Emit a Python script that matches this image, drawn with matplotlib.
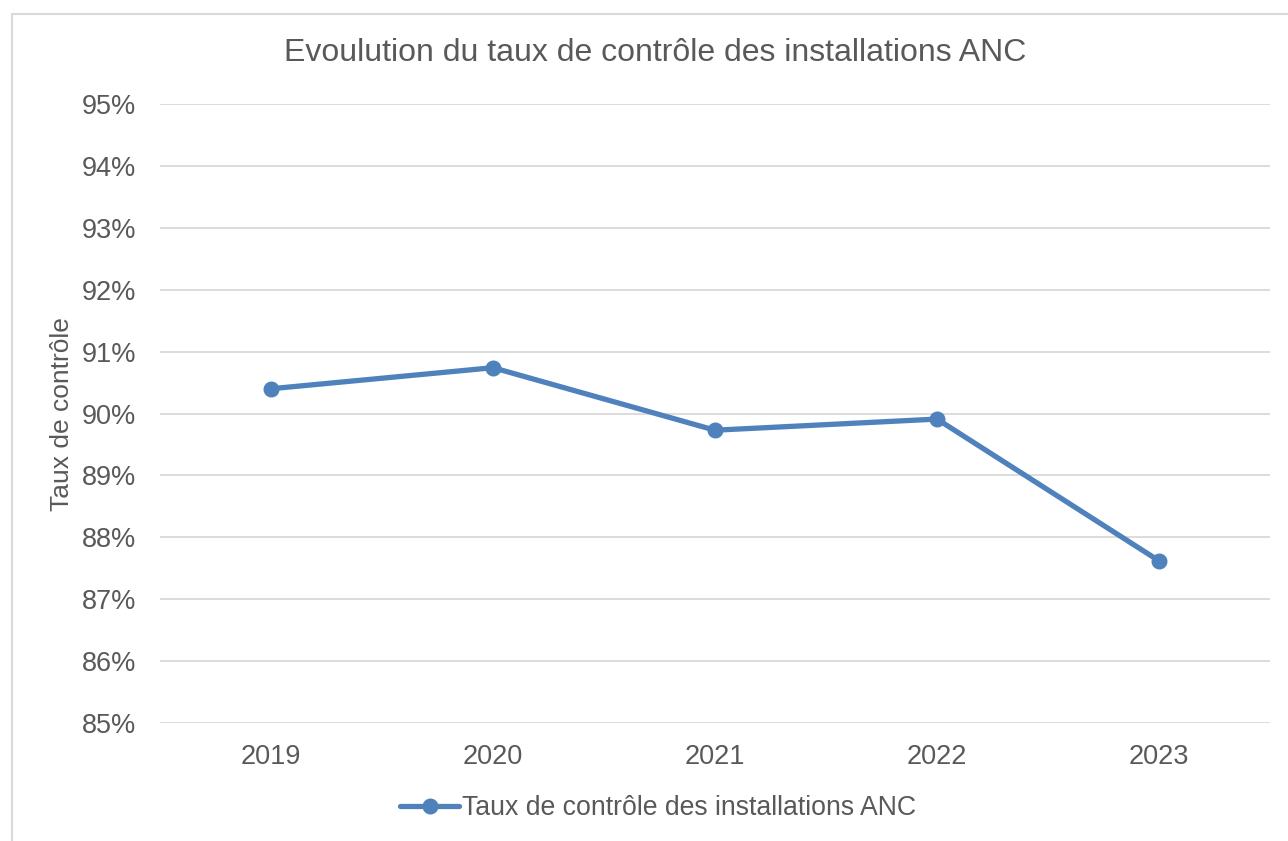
import matplotlib
matplotlib.use("Agg")
import matplotlib.pyplot as plt
from matplotlib.patches import Rectangle
from matplotlib.ticker import FuncFormatter, MultipleLocator

years = ["2019", "2020", "2021", "2022", "2023"]
taux = [0.9040, 0.9074, 0.8973, 0.8991, 0.8762]
series_name = "Taux de contrôle des installations ANC"
title = "Evoulution du taux de contrôle des installations ANC"
ylabel = "Taux de contrôle"

plt.rcParams['font.family'] = ['Liberation Sans', 'DejaVu Sans']
W, H = 1288, 841
fig = plt.figure(figsize=(W / 100, H / 100), dpi=100)
fig.patch.set_facecolor("white")

# chart frame
fig.add_artist(Rectangle((12 / W, -0.05), 1.2, 1 - 14 / H + 0.05, transform=fig.transFigure,
                         fill=False, edgecolor="#d9d9d9", lw=1.5))

ax = fig.add_axes([160 / W, 1 - 723 / H, (1270 - 160) / W, (723 - 104) / H])
x = list(range(len(years)))
line_color = "#4f81bd"
ax.plot(x, taux, color=line_color, lw=3.8, marker="o", markersize=10.5,
        solid_capstyle="round", label=series_name, zorder=3)

ax.set_xlim(-0.5, len(years) - 0.5)
ax.set_ylim(0.85, 0.95)
ax.yaxis.set_major_locator(MultipleLocator(0.01))
ax.yaxis.set_major_formatter(FuncFormatter(lambda v, p: f"{v * 100:.0f}%"))
ax.set_xticks(x)
ax.set_xticklabels(years)
ax.grid(axis="y", color="#d9d9d9", lw=1.3)
ax.set_axisbelow(True)
for s in ax.spines.values():
    s.set_visible(False)
ax.tick_params(axis="both", length=0, colors="#595959", labelsize=19.5)
ax.tick_params(axis="y", pad=17)
ax.tick_params(axis="x", pad=15)

fig.text(655 / W, 1 - 53 / H, title, ha="center", va="center", fontsize=23, color="#595959")
fig.text(62 / W, 1 - 414 / H, ylabel, ha="center", va="center", rotation=90, fontsize=19, color="#595959")

leg = fig.legend(loc="center", bbox_to_anchor=(658 / W, 1 - 808 / H), frameon=False,
                 fontsize=19.2, handlelength=2.2, handletextpad=0.1, labelcolor="#595959")

fig.savefig("out.png", dpi=100, facecolor="white")
